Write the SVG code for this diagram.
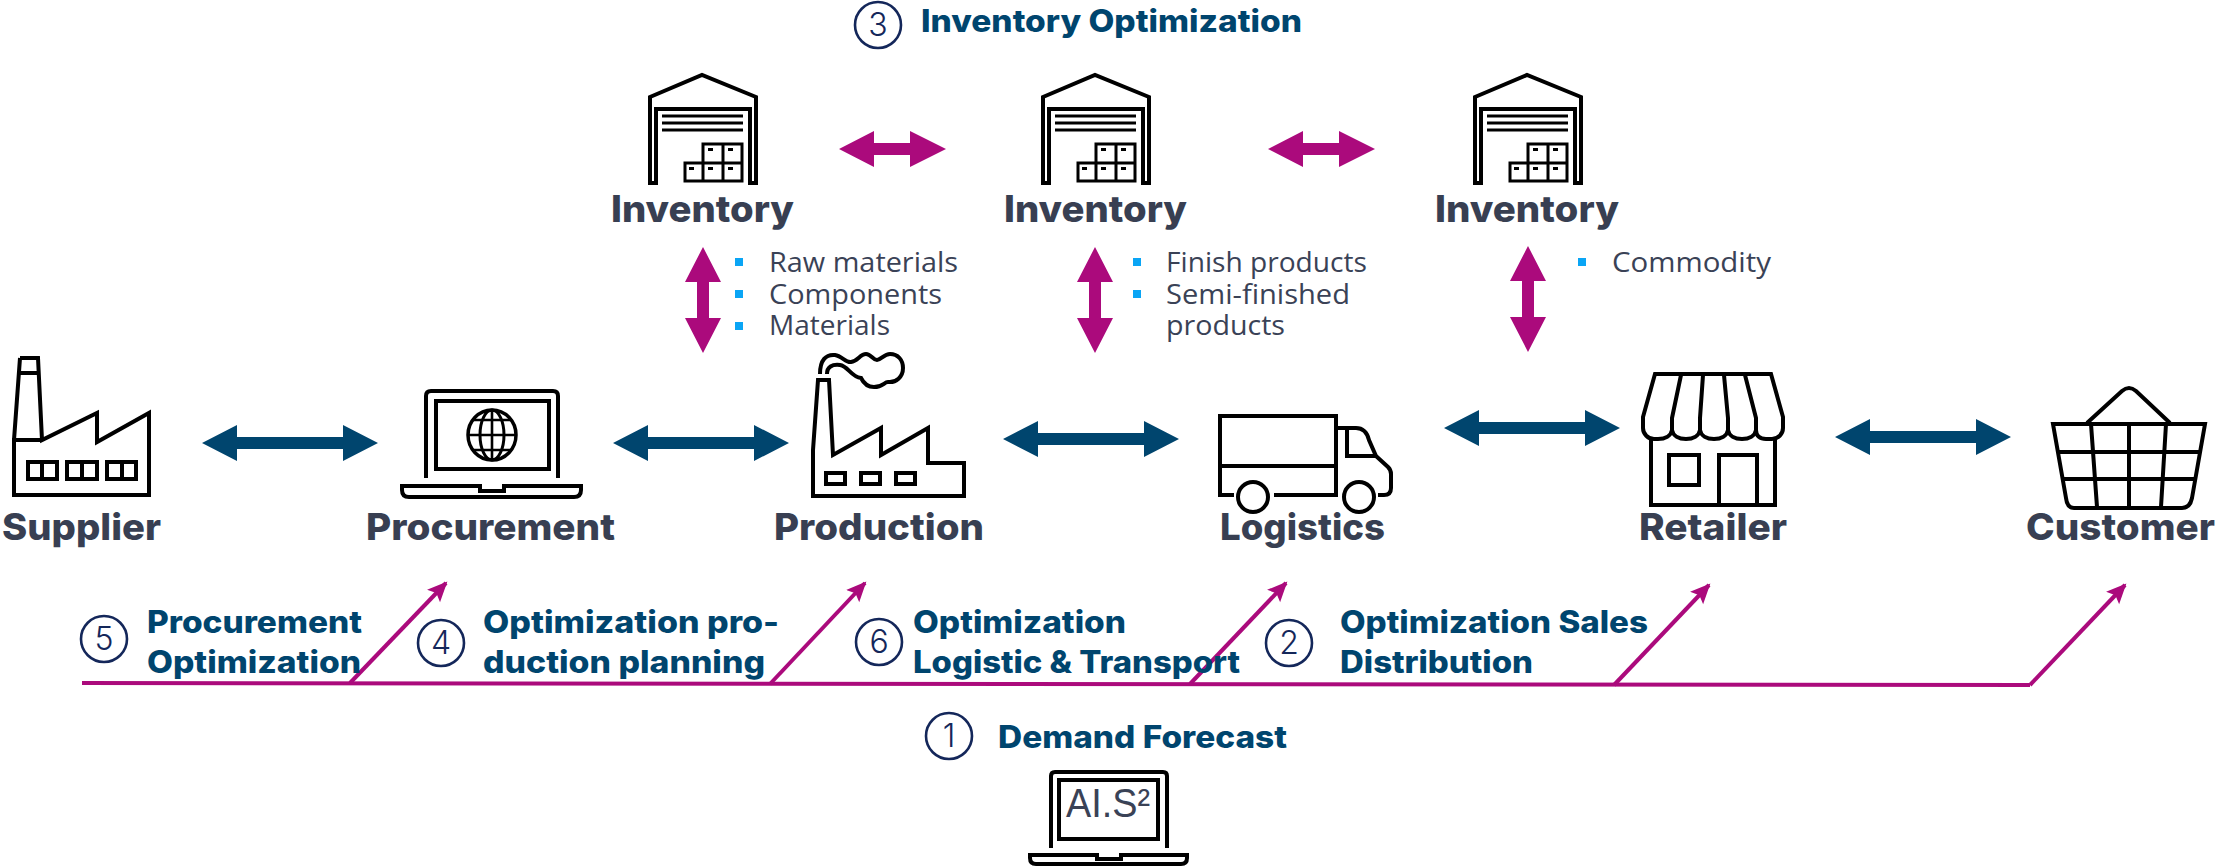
<svg xmlns="http://www.w3.org/2000/svg" width="2216" height="866" viewBox="0 0 2216 866">
<style>
.i{fill:none;stroke:#000;stroke-width:4;stroke-linejoin:miter}
.n{font:800 37px Inter,"Liberation Sans",sans-serif;fill:#383f52}
.h{font:800 31px Inter,"Liberation Sans",sans-serif;fill:#00456e}
.l{font:400 27px "Open Sans","Liberation Sans",sans-serif;fill:#3a4256}
.c{fill:none;stroke:#14275a;stroke-width:2.6}
.d{font:300 32px Inter,"Liberation Sans",sans-serif;fill:#14275a;text-anchor:middle}
.b{fill:#0aa5f5}
.navy{fill:#00456e}
.mag{fill:#ab0a7c}
.m{fill:none;stroke:#ab0a7c;stroke-width:4}
</style>
<defs>
<marker id="ah" markerUnits="userSpaceOnUse" markerWidth="22" markerHeight="20" refX="18" refY="10" orient="auto"><path d="M0 1L20 10L0 19L4 10z" fill="#ab0a7c"/></marker>
<g id="wh">
<path class="i" d="M650 183V97L702 75L756 97V183H750V109H656V183z"/>
<path class="i" style="stroke-width:3" d="M662 116H743M662 123H743M662 130H743"/>
<path class="i" style="stroke-width:3" d="M703 163V144H742V181H685V163H742M723 144V181M703 163V181"/>
<path d="M708 148h5v3h-5zM728 148h5v3h-5zM689 167h5v3h-5zM708 167h5v3h-5zM728 167h5v3h-5z"/>
</g>
<path id="ha" d="M-88 0L-53 -18V-6H53V-18L88 0L53 18V6H-53V18z"/>
</defs>

<g id="connectors">
<use href="#ha" class="navy" transform="translate(290 443)"/>
<use href="#ha" class="navy" transform="translate(701 443)"/>
<use href="#ha" class="navy" transform="translate(1091 439)"/>
<use href="#ha" class="navy" transform="translate(1532 428)"/>
<use href="#ha" class="navy" transform="translate(1923 437)"/>
<path class="mag" d="M839 149L874 131V143H910V131L946 149L910 167V155H874V167z"/>
<path class="mag" d="M1268 149L1303 131V143H1339V131L1375 149L1339 167V155H1303V167z"/>
<path class="mag" d="M703 247L721 282H709V318H721L703 353L685 318H697V282H685z"/>
<path class="mag" d="M1095 247L1113 282H1101V318H1113L1095 353L1077 318H1089V282H1077z"/>
<path class="mag" d="M1528 246L1546 281H1534V317H1546L1528 352L1510 317H1522V281H1510z"/>
<path class="m" d="M82 683L2030 685"/>
<path class="m" marker-end="url(#ah)" d="M350 683L446 583"/>
<path class="m" marker-end="url(#ah)" d="M770 684L865 583"/>
<path class="m" marker-end="url(#ah)" d="M1190 684L1286 583"/>
<path class="m" marker-end="url(#ah)" d="M1614 685L1709 585"/>
<path class="m" marker-end="url(#ah)" d="M2030 685L2125 585"/>
</g>

<g id="supplier">
<path class="i" d="M20 358H38L42 440L97 413V442L149 413V495H14V440H42M14 440L20 358M19 373H39"/>
<path class="i" d="M28 462H57V479H28zM42 462V479M67 462H97V479H67zM82 462V479M107 462H136V479H107zM122 462V479"/>
<text class="n" x="2" y="540" textLength="159" lengthAdjust="spacingAndGlyphs">Supplier</text>
</g>

<g id="procurement">
<path class="i" d="M426 478V396Q426 391 431 391H553Q558 391 558 396V478"/>
<path class="i" d="M436 401H549V469H436z"/>
<ellipse class="i" style="stroke-width:3.5" cx="492" cy="435" rx="24" ry="25"/>
<ellipse class="i" style="stroke-width:3" cx="492" cy="435" rx="12" ry="25"/>
<path class="i" d="M492 410V460M467 435H517M472 420H512M472 450H512" style="stroke-width:2.6"/>
<path class="i" d="M402 486H480V491H504V486H581V490Q581 497 574 497H409Q402 497 402 490z"/>
<text class="n" x="366" y="540" textLength="249" lengthAdjust="spacingAndGlyphs">Procurement</text>
</g>

<g id="production">
<path class="i" d="M818 380H829L833 455L881 428V455L928 428V463H964V496H813V450z"/>
<path class="i" d="M826 473H845V484H826zM861 473H880V484H861zM896 473H915V484H896z"/>
<path class="i" d="M820 374C820 360 826 354 835 355C842 356 846 363 851 362C858 361 860 354 866 354C871 354 873 360 877 360C881 360 884 354 890 354C898 354 903 360 903 368C903 377 896 383 888 382C884 382 883 387 874 387C866 387 863 382 861 378C851 377 848 366 840 365C832 364 827 367 827 374"/>
<text class="n" x="774" y="540" textLength="210" lengthAdjust="spacingAndGlyphs">Production</text>
</g>

<g id="logistics">
<path class="i" d="M1234 495H1220V416H1336V495H1274M1220 466H1336"/>
<path class="i" d="M1336 428H1356Q1366 428 1369 440L1376 456L1388 467Q1391 470 1391 474V488Q1391 495 1384 495H1378M1347 428V456H1376"/>
<circle class="i" cx="1253" cy="497" r="15"/>
<circle class="i" cx="1359" cy="497" r="15"/>
<text class="n" x="1220" y="540" textLength="165" lengthAdjust="spacingAndGlyphs">Logistics</text>
</g>

<g id="retailer">
<path class="i" d="M1655 374H1771L1783 417V428C1783 434 1778 439 1772 439H1766C1760 439 1756 436 1756 430C1755 436 1749 439 1742 439C1735 439 1729 436 1728 430C1727 436 1721 439 1714 439C1707 439 1701 436 1700 430C1699 436 1693 439 1686 439C1679 439 1673 436 1672 430C1671 436 1665 439 1658 439H1654C1648 439 1643 434 1643 428V417z"/>
<path class="i" d="M1681 375L1672 418V430M1703 375L1700 418V430M1724 375L1728 418V430M1745 375L1756 418V430"/>
<path class="i" d="M1651 439V505H1775V439M1669 455H1699V485H1669zM1719 505V455H1757V505"/>
<text class="n" x="1639" y="540" textLength="148" lengthAdjust="spacingAndGlyphs">Retailer</text>
</g>

<g id="customer">
<path class="i" d="M2053 424H2205L2192 498Q2190 508 2182 508H2074Q2067 508 2066 498z"/>
<path class="i" d="M2087 423L2122 391Q2129 385 2136 391L2170 423M2058 452H2199M2063 479H2194M2091 424L2097 507M2129 424V507M2166 424L2161 507"/>
<text class="n" x="2026" y="540" textLength="189" lengthAdjust="spacingAndGlyphs">Customer</text>
</g>

<g id="inventory1">
<use href="#wh"/>
<text class="n" x="611" y="222" textLength="183" lengthAdjust="spacingAndGlyphs">Inventory</text>
<rect class="b" x="735" y="258" width="8" height="8"/><rect class="b" x="735" y="290" width="8" height="8"/><rect class="b" x="735" y="322" width="8" height="8"/>
<text class="l" x="769" y="272" textLength="189" lengthAdjust="spacingAndGlyphs">Raw materials</text>
<text class="l" x="769" y="304" textLength="173" lengthAdjust="spacingAndGlyphs">Components</text>
<text class="l" x="769" y="335" textLength="121" lengthAdjust="spacingAndGlyphs">Materials</text>
</g>
<g id="inventory2">
<use href="#wh" x="393"/>
<text class="n" x="1004" y="222" textLength="183" lengthAdjust="spacingAndGlyphs">Inventory</text>
<rect class="b" x="1133" y="258" width="8" height="8"/><rect class="b" x="1133" y="290" width="8" height="8"/>
<text class="l" x="1166" y="272" textLength="201" lengthAdjust="spacingAndGlyphs">Finish products</text>
<text class="l" x="1166" y="304" textLength="184" lengthAdjust="spacingAndGlyphs">Semi-finished</text>
<text class="l" x="1166" y="335" textLength="119" lengthAdjust="spacingAndGlyphs">products</text>
</g>
<g id="inventory3">
<use href="#wh" x="825"/>
<text class="n" x="1435" y="222" textLength="184" lengthAdjust="spacingAndGlyphs">Inventory</text>
<rect class="b" x="1578" y="258" width="8" height="8"/>
<text class="l" x="1612" y="272" textLength="159" lengthAdjust="spacingAndGlyphs">Commodity</text>
</g>

<g id="step3">
<circle class="c" cx="878" cy="25" r="23"/><text class="d" x="878" y="36">3</text>
<text class="h" x="921" y="32" textLength="381" lengthAdjust="spacingAndGlyphs">Inventory Optimization</text>
</g>
<g id="step5">
<circle class="c" cx="104" cy="639" r="23"/><text class="d" x="104" y="650">5</text>
<text class="h" x="147" y="633" textLength="215" lengthAdjust="spacingAndGlyphs">Procurement</text>
<text class="h" x="147" y="673" textLength="214" lengthAdjust="spacingAndGlyphs">Optimization</text>
</g>
<g id="step4">
<circle class="c" cx="441" cy="643" r="23"/><text class="d" x="441" y="654">4</text>
<text class="h" x="483" y="633" textLength="296" lengthAdjust="spacingAndGlyphs">Optimization pro-</text>
<text class="h" x="483" y="673" textLength="282" lengthAdjust="spacingAndGlyphs">duction planning</text>
</g>
<g id="step6">
<circle class="c" cx="879" cy="642" r="23"/><text class="d" x="879" y="653">6</text>
<text class="h" x="913" y="633" textLength="213" lengthAdjust="spacingAndGlyphs">Optimization</text>
<text class="h" x="913" y="673" textLength="327" lengthAdjust="spacingAndGlyphs">Logistic &amp; Transport</text>
</g>
<g id="step2">
<circle class="c" cx="1289" cy="643" r="23"/><text class="d" x="1289" y="654">2</text>
<text class="h" x="1340" y="633" textLength="308" lengthAdjust="spacingAndGlyphs">Optimization Sales</text>
<text class="h" x="1340" y="673" textLength="193" lengthAdjust="spacingAndGlyphs">Distribution</text>
</g>
<g id="step1">
<circle class="c" cx="949" cy="736" r="23"/><text class="d" x="949" y="747">1</text>
<text class="h" x="998" y="748" textLength="289" lengthAdjust="spacingAndGlyphs">Demand Forecast</text>
</g>
<g id="ais2">
<path class="i" d="M1051 848V776Q1051 772 1055 772H1163Q1167 772 1167 776V848"/>
<path class="i" d="M1059 780H1158V839H1059z"/>
<path class="i" d="M1030 855H1097V859H1121V855H1187V858Q1187 864 1181 864H1036Q1030 864 1030 858z"/>
<text x="1066" y="817" textLength="84" lengthAdjust="spacingAndGlyphs" style="font:400 41px 'Liberation Sans',sans-serif;fill:#3a4256">AI.S²</text>
</g>
</svg>
